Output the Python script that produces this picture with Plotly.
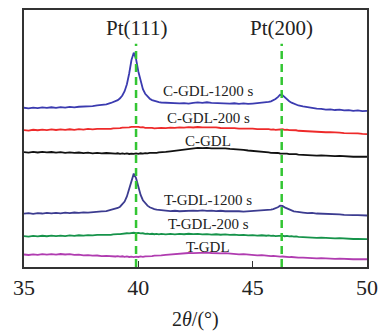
import plotly.graph_objects as go

two_theta = [35.0, 35.2, 35.4, 35.6, 35.8, 36.0, 36.2, 36.4, 36.6, 36.8, 37.0, 37.2, 37.4, 37.6, 37.8, 38.0, 38.2, 38.4, 38.6,
             38.8, 38.9, 39.0, 39.1, 39.2, 39.3, 39.4, 39.5, 39.6, 39.7, 39.8, 39.9, 40.0, 40.1, 40.2, 40.3, 40.4, 40.5, 40.6, 40.7, 40.8, 40.9, 41.0,
             41.2, 41.4, 41.6, 41.8, 42.0, 42.2, 42.4, 42.6, 42.8, 43.0, 43.2, 43.4, 43.6, 43.8, 44.0, 44.2, 44.4, 44.6, 44.8, 45.0, 45.2, 45.4, 45.6,
             45.7, 45.8, 45.9, 46.0, 46.1, 46.2, 46.3, 46.4, 46.5, 46.6, 46.7, 46.8, 46.9, 47.0,
             47.2, 47.4, 47.6, 47.8, 48.0, 48.2, 48.4, 48.6, 48.8, 49.0, 49.2, 49.4, 49.6, 49.8, 50.0]

c_gdl_1200 = [160.5, 159.8, 160.6, 160.1, 160.9, 160.3, 161.0, 160.4, 161.2, 160.6, 161.3, 160.8, 161.5, 161.6, 162.0, 162.2, 162.8, 163.3, 164.0,
              165.3, 166.0, 166.8, 168.2, 170.0, 172.9, 177.2, 184.2, 195.0, 208.6, 216.0, 209.6, 197.0, 186.4, 179.2, 174.6, 171.6, 169.6, 168.2, 167.3, 166.6, 166.1, 165.8,
              165.6, 165.0, 165.4, 164.8, 165.2, 164.7, 165.5, 165.9, 165.4, 166.0, 165.5, 165.2, 165.6, 164.9, 164.6, 165.0, 164.4, 164.8, 164.3, 164.7, 165.0, 165.3, 165.9,
              166.3, 167.0, 167.8, 169.3, 171.2, 173.6, 173.2, 170.8, 168.8, 167.0, 165.6, 164.5, 163.6, 162.8,
              161.9, 161.0, 160.6, 159.7, 159.4, 158.6, 158.9, 158.2, 158.5, 157.8, 158.1, 157.4, 157.8, 157.1, 157.4]

c_gdl_200 = [138.0, 137.5, 138.3, 137.8, 138.5, 137.9, 138.6, 138.1, 138.7, 138.2, 138.8, 138.3, 138.9, 138.5, 139.1, 138.7, 139.2, 139.0, 139.5,
             139.3, 139.8, 139.6, 140.1, 139.9, 140.4, 140.3, 140.8, 140.7, 141.2, 141.4, 141.0, 141.3, 140.7, 140.9, 140.3, 140.5, 140.0, 140.3, 139.8, 140.2, 139.9, 140.3,
             140.0, 140.5, 140.2, 140.8, 140.5, 141.0, 140.6, 141.1, 140.7, 140.9, 140.4, 140.7, 140.1, 140.3, 139.8, 140.0, 139.5, 139.7, 139.2, 139.4, 138.9, 139.1, 138.6,
             138.9, 138.4, 138.7, 138.2, 138.6, 138.3, 138.8, 138.2, 138.5, 137.9, 138.1, 137.6, 137.8, 137.3,
             137.0, 136.6, 136.8, 136.2, 136.3, 135.8, 136.0, 135.4, 135.5, 135.0, 135.1, 134.6, 134.7, 134.2, 134.0]

c_gdl = [115.8, 115.2, 116.0, 115.4, 116.1, 115.5, 115.9, 115.3, 115.8, 115.1, 115.6, 115.0, 115.4, 114.8, 115.2, 114.6, 115.0, 114.5, 114.9,
         114.4, 114.8, 114.2, 114.6, 114.1, 114.5, 114.0, 114.4, 113.9, 114.3, 114.0, 114.5, 114.1, 114.6, 114.3, 114.8, 114.5, 115.0, 114.8, 115.3, 115.1, 115.6, 115.5,
         116.0, 116.6, 117.2, 118.0, 118.6, 119.3, 119.6, 120.0, 119.7, 120.1, 119.6, 119.8, 119.3, 119.5, 119.0, 118.8, 118.2, 118.0, 117.4, 117.1, 116.5, 116.2, 115.7,
         115.5, 115.0, 115.2, 114.7, 114.9, 114.4, 114.6, 114.1, 114.3, 113.8, 114.0, 113.5, 113.7, 113.3,
         113.0, 112.6, 112.8, 112.3, 112.5, 112.0, 112.2, 111.7, 111.9, 111.4, 111.6, 111.1, 111.3, 110.9, 111.1]

t_gdl_1200 = [53.8, 54.3, 53.6, 54.2, 53.9, 54.5, 54.0, 54.6, 54.1, 54.7, 54.3, 54.9, 54.5, 55.1, 54.8, 55.4, 55.5, 56.1, 56.3,
              57.3, 57.9, 58.4, 59.5, 60.8, 62.9, 66.0, 71.1, 78.9, 88.7, 94.1, 89.5, 80.4, 72.6, 67.3, 63.9, 61.8, 60.2, 59.1, 58.4, 57.8, 57.4, 57.0,
              56.8, 56.3, 56.7, 56.2, 56.6, 56.3, 56.8, 56.5, 57.0, 56.6, 56.9, 56.4, 56.7, 56.2, 56.4, 55.9, 56.2, 55.8, 56.1, 55.9, 56.4, 56.6, 57.0,
              57.4, 57.8, 58.3, 59.1, 60.2, 61.8, 61.6, 60.1, 58.9, 57.8, 56.9, 56.1, 55.7, 55.2,
              54.9, 54.3, 54.5, 53.9, 53.8, 53.3, 53.5, 52.9, 53.1, 52.5, 52.7, 52.2, 52.3, 51.8, 51.9]

t_gdl_200 = [31.2, 30.7, 31.4, 30.9, 31.5, 31.0, 31.6, 31.1, 31.7, 31.2, 31.8, 31.4, 32.0, 31.6, 32.1, 31.8, 32.3, 32.1, 32.6,
             32.4, 32.9, 32.7, 33.2, 33.1, 33.6, 33.5, 34.0, 33.8, 34.3, 34.5, 34.1, 34.4, 33.8, 34.0, 33.4, 33.7, 33.1, 33.5, 33.0, 33.4, 32.9, 33.3,
             32.8, 33.3, 32.9, 33.4, 33.0, 33.5, 33.1, 33.4, 32.9, 33.2, 32.7, 33.0, 32.5, 32.8, 32.3, 32.6, 32.1, 32.4, 31.9, 32.2, 31.7, 32.0, 31.5,
             31.8, 31.3, 31.6, 31.1, 31.5, 31.2, 31.6, 31.0, 31.3, 30.8, 31.1, 30.6, 30.9, 30.4,
             30.1, 29.7, 30.0, 29.4, 29.6, 29.1, 29.3, 28.8, 29.0, 28.5, 28.7, 28.2, 28.4, 27.9, 28.0]

t_gdl = [12.6, 12.1, 12.8, 12.3, 12.9, 12.4, 13.0, 12.5, 13.1, 12.6, 12.9, 12.2, 12.4, 11.8, 12.0, 11.4, 11.6, 11.0, 11.3,
         10.8, 11.2, 10.6, 11.0, 10.4, 10.8, 10.2, 10.6, 10.1, 10.5, 10.0, 10.4, 10.1, 10.6, 10.3, 10.8, 10.6, 11.1, 10.9, 11.4, 11.3, 11.8, 11.7,
         12.2, 12.7, 13.0, 13.5, 13.7, 14.1, 14.0, 14.4, 14.2, 14.5, 14.1, 14.3, 13.8, 13.9, 13.3, 13.4, 12.8, 12.9, 12.3, 12.4, 11.8, 11.9, 11.3,
         11.5, 11.0, 11.2, 10.7, 10.9, 10.4, 10.6, 10.2, 10.4, 9.9, 10.1, 9.7, 9.9, 9.5,
         9.4, 9.0, 9.2, 8.7, 8.9, 8.5, 8.7, 8.2, 8.4, 8.0, 8.2, 7.8, 8.0, 7.6, 7.8]

series_names = ["C-GDL-1200 s", "C-GDL-200 s", "C-GDL", "T-GDL-1200 s", "T-GDL-200 s", "T-GDL"]
series_values = [c_gdl_1200, c_gdl_200, c_gdl, t_gdl_1200, t_gdl_200, t_gdl]
series_colors = ["#3b3bb0", "#ee2a2a", "#111111", "#3c3c90", "#16934a", "#b03cb0"]
label_y = [177, 150, 127, 68, 43, 20]
label_x = 43.05

peak_names = ["Pt(111)", "Pt(200)"]
peak_pos = [39.9, 46.27]
peak_line_top = 225
peak_label_y = 241

x_ticks = [35, 40, 45, 50]

serif = "Liberation Serif"

fig = go.Figure()
for name, vals, col in zip(series_names, series_values, series_colors):
    fig.add_trace(go.Scatter(x=two_theta, y=vals, mode="lines", name=name,
                             line=dict(color=col, width=1.8), showlegend=False))

annotations = []
for name, ly in zip(series_names, label_y):
    annotations.append(dict(x=label_x, y=ly, text=name, showarrow=False,
                            font=dict(family=serif, size=15, color="#222"),
                            xanchor="center", yanchor="middle"))
shapes = []
for name, px in zip(peak_names, peak_pos):
    shapes.append(dict(type="line", x0=px, x1=px, y0=0, y1=peak_line_top, xref="x", yref="y",
                       line=dict(color="#33c633", width=2.5, dash="8px,5px")))
    annotations.append(dict(x=px, y=peak_label_y, text=name, showarrow=False,
                            font=dict(family=serif, size=21, color="#222"),
                            xanchor="center", yanchor="middle"))
annotations.append(dict(x=0.5, y=-0.205, xref="paper", yref="paper",
                        text="2<i>θ</i>/(°)", showarrow=False,
                        font=dict(family=serif, size=20, color="#222"),
                        xanchor="center", yanchor="middle"))

fig.update_layout(
    width=387, height=335,
    margin=dict(l=24, r=20, t=8, b=68),
    paper_bgcolor="white", plot_bgcolor="white",
    font=dict(family=serif),
    annotations=annotations, shapes=shapes,
    xaxis=dict(range=[35, 50], tickvals=x_ticks, ticks="inside", ticklen=6, tickwidth=1.2,
               tickcolor="#333", showline=True, linecolor="#333", linewidth=1.5, mirror=True,
               showgrid=False, zeroline=False,
               tickfont=dict(family=serif, size=22, color="#222")),
    yaxis=dict(range=[0, 259], showticklabels=False, ticks="", showline=True, linecolor="#333",
               linewidth=1.5, mirror=True, showgrid=False, zeroline=False),
)

fig.write_html("out.html")
